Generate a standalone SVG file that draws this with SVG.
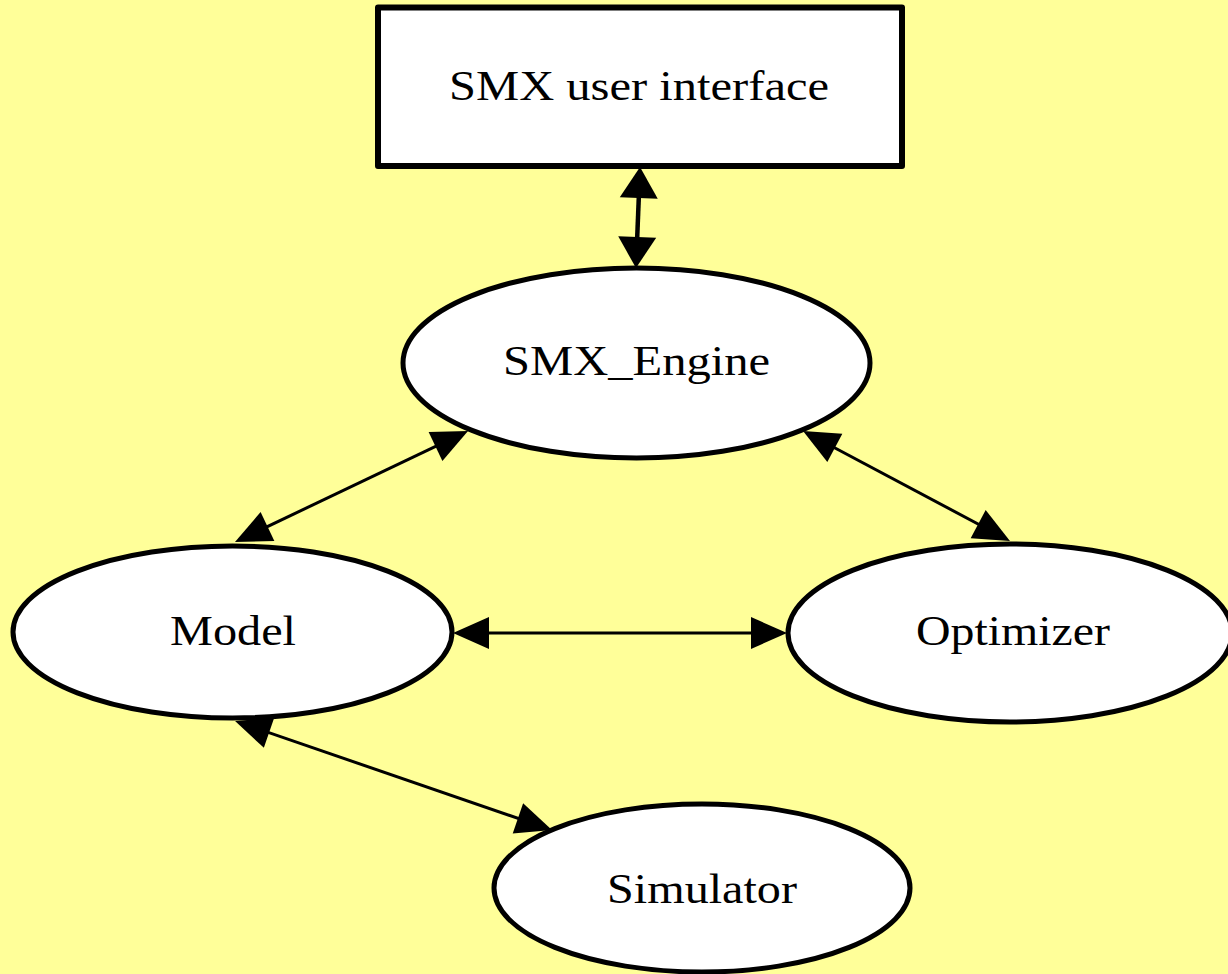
<svg xmlns="http://www.w3.org/2000/svg" width="1228" height="974" viewBox="0 0 1228 974">
<style>
.node{fill:#ffffff;stroke:#000000;stroke-width:5}
.box{fill:#ffffff;stroke:#000000;stroke-width:6;stroke-linejoin:round}
.lbl{font-family:"Liberation Serif","Times New Roman",serif;font-size:42px;fill:#000000;text-anchor:middle}
.edge{stroke:#000000;stroke-width:3;fill:none}
.edge.thick{stroke-width:4.5}
</style>
<defs>
<marker id="ah" markerUnits="userSpaceOnUse" markerWidth="36" markerHeight="32" refX="28" refY="16" orient="auto-start-reverse" overflow="visible">
<path d="M0,0 L36,16 L0,32 z" fill="#000000"/>
</marker>
<marker id="ahBig" markerUnits="userSpaceOnUse" markerWidth="31" markerHeight="38" refX="23" refY="19" orient="auto-start-reverse" overflow="visible">
<path d="M0,0 L31,19 L0,38 z" fill="#000000"/>
</marker>
</defs>
<rect x="0" y="0" width="1228" height="974" fill="#FFFF99"/>
<g id="connectors">
<line class="edge thick" x1="639.7" y1="175" x2="636.3" y2="260" marker-start="url(#ahBig)" marker-end="url(#ahBig)"/>
<line class="edge" x1="460.8" y1="434.4" x2="242.2" y2="538.6" marker-start="url(#ah)" marker-end="url(#ah)"/>
<line class="edge" x1="810.1" y1="434.8" x2="1002.9" y2="537.2" marker-start="url(#ah)" marker-end="url(#ah)"/>
<line class="edge" x1="461" y1="633" x2="779" y2="633" marker-start="url(#ah)" marker-end="url(#ah)"/>
<line class="edge" x1="242.6" y1="723.6" x2="544.4" y2="827.4" marker-start="url(#ah)" marker-end="url(#ah)"/>
</g>
<g id="node-ui">
<rect class="box" x="378" y="7.5" width="524" height="158.5"/>
<text class="lbl" x="639" y="100" textLength="380" lengthAdjust="spacingAndGlyphs">SMX user interface</text>
</g>
<g id="node-engine">
<ellipse class="node" cx="636.5" cy="363" rx="233.5" ry="95"/>
<text class="lbl" x="636.5" y="375" textLength="267" lengthAdjust="spacingAndGlyphs">SMX_Engine</text>
</g>
<g id="node-model">
<ellipse class="node" cx="232.5" cy="632" rx="219.5" ry="86"/>
<text class="lbl" x="233" y="645" textLength="126" lengthAdjust="spacingAndGlyphs">Model</text>
</g>
<g id="node-optimizer">
<ellipse class="node" cx="1010" cy="633" rx="222" ry="89"/>
<text class="lbl" x="1013" y="645" textLength="194" lengthAdjust="spacingAndGlyphs">Optimizer</text>
</g>
<g id="node-simulator">
<ellipse class="node" cx="702" cy="888" rx="208" ry="84"/>
<text class="lbl" x="702" y="903" textLength="190" lengthAdjust="spacingAndGlyphs">Simulator</text>
</g>
</svg>
